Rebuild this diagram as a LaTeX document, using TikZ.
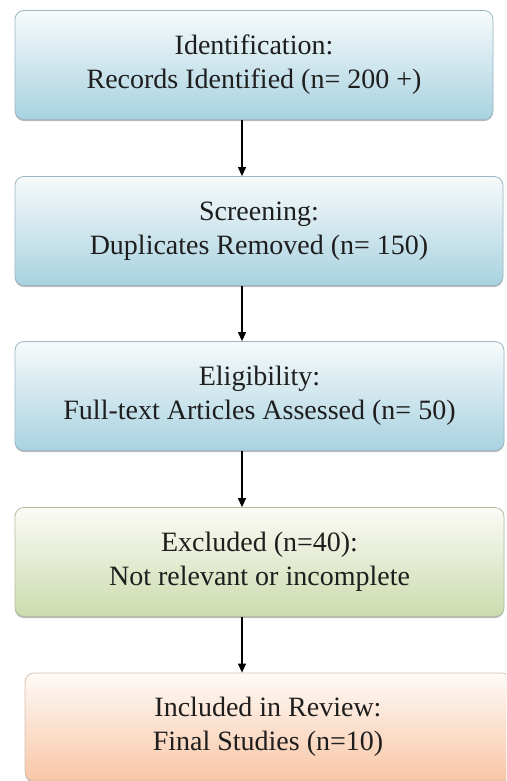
\documentclass[tikz,border=0pt]{standalone}
\usepackage{fontspec}
\setmainfont{Liberation Serif}
\usetikzlibrary{shadows,arrows.meta}
\definecolor{bluebot}{HTML}{A8D2E0}
\definecolor{bluetop}{HTML}{F7FAFB}
\definecolor{blueedge}{HTML}{9DB8C3}
\definecolor{greenbot}{HTML}{CCDBAE}
\definecolor{greentop}{HTML}{FBFBF6}
\definecolor{greenedge}{HTML}{B4BFA0}
\definecolor{orangebot}{HTML}{F8C6A5}
\definecolor{orangetop}{HTML}{FEFAF7}
\definecolor{orangeedge}{HTML}{D8C0B0}
\definecolor{txt}{HTML}{1E1E1E}
\tikzset{
  box/.style={rectangle, rounded corners=9pt, minimum height=109pt, align=center,
    text=txt, font=\fontsize{28}{34}\selectfont, line width=0.8pt,
    drop shadow={shadow xshift=0pt, shadow yshift=-1.6pt, opacity=0.45, fill=black!60}},
  bluebox/.style={box, draw=blueedge, top color=bluetop, bottom color=bluebot},
  greenbox/.style={box, draw=greenedge, top color=greentop, bottom color=greenbot},
  orangebox/.style={box, draw=orangeedge, top color=orangetop, bottom color=orangebot},
  arr/.style={-{Triangle[length=9pt,width=8pt]}, line width=1.1pt, black}
}
\begin{document}
\begin{tikzpicture}[x=1pt,y=-1pt]
\useasboundingbox (0,0) rectangle (506,781);
\begin{scope}
\clip (0,0) rectangle (506,781);
\node[bluebox, minimum width=478pt] (b1) at (254,65) {Identification:\\Records Identified (n= 200 +)};
\node[bluebox, minimum width=488pt] (b2) at (259,231) {Screening:\\Duplicates Removed (n= 150)};
\node[bluebox, minimum width=489pt] (b3) at (259.5,396) {Eligibility:\\Full-text Articles Assessed (n= 50)};
\node[greenbox, minimum width=489pt] (b4) at (259.5,562) {Excluded (n=40):\\Not relevant or incomplete};
\node[orangebox, minimum width=486pt, minimum height=108pt] (b5) at (268,727) {Included in Review:\\Final Studies (n=10)};
\end{scope}
\coordinate (ax) at (242,0);
\draw[arr] (b1.south -| ax) -- (b2.north -| ax);
\draw[arr] (b2.south -| ax) -- (b3.north -| ax);
\draw[arr] (b3.south -| ax) -- (b4.north -| ax);
\draw[arr] (b4.south -| ax) -- (b5.north -| ax);
\end{tikzpicture}
\end{document}
